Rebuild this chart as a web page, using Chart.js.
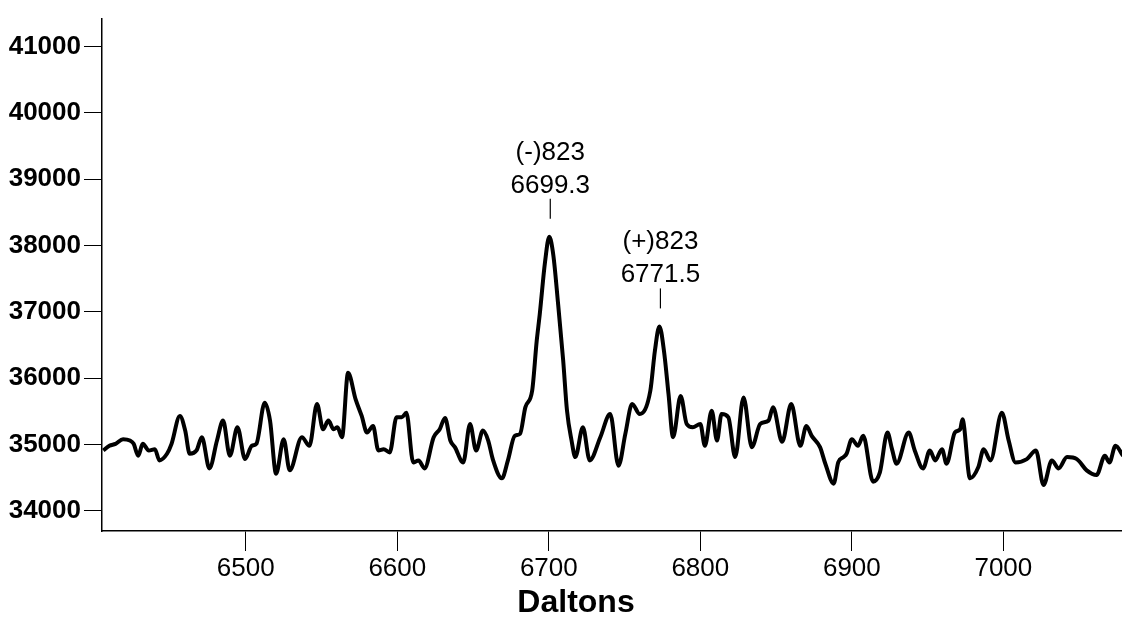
<!DOCTYPE html>
<html>
<head>
<meta charset="utf-8">
<script src="https://cdn.jsdelivr.net/npm/chart.js@4/dist/chart.umd.min.js"></script>
<style>
html,body{margin:0;padding:0;background:#fff;}
#wrap{width:1122px;height:620px;position:relative;}
</style>
</head>
<body>
<div id="wrap"><canvas id="c" width="1122" height="620"></canvas></div>
<script>
// ---- data ----
const daltons = [6406,6410,6414,6419,6423.5,6426,6429,6432,6436,6440,6443,6448,6451,6456.5,6460,6463,6467.5,6471,6476,6481,6485,6489.5,6494.5,6499.5,6504,6507,6512.5,6516,6520,6525,6529,6537,6542,6547,6551,6554.5,6558,6560.5,6563.5,6567.5,6572.5,6576.5,6580,6584,6587.5,6591,6595,6599.5,6603,6606,6610.5,6614,6618,6624,6628,6631.5,6635,6638,6643.5,6648,6652,6656.5,6660,6663,6669,6673,6677.5,6681,6684.5,6689,6692,6694,6697.5,6700.3,6703,6706,6709.5,6712,6715,6717.5,6722.5,6727,6734,6740.5,6746,6750.5,6755,6760,6767,6770,6773,6776,6779,6782,6787,6791,6795,6800,6803,6807.5,6811,6814,6818.5,6823,6828.5,6834,6839.5,6845,6848,6854,6860,6866,6870,6873.5,6879,6882.5,6888,6891,6894.5,6896.5,6900,6904,6907.5,6914,6918.5,6923.5,6926.5,6929.5,6937.5,6941.5,6947,6951.5,6955,6959.5,6962.5,6968,6971.5,6973,6978,6983.5,6987,6991.5,6999,7003.5,7008,7015.5,7021.5,7026.5,7032,7036.5,7042,7048.5,7055,7061.5,7067,7070,7074,7079];
const intensity = [34910,34980,35010,35080,35060,35010,34830,35010,34910,34930,34760,34860,35010,35430,35210,34860,34910,35110,34640,35060,35360,34830,35260,34780,34980,35010,35630,35360,34560,35080,34610,35110,34980,35610,35230,35360,35230,35260,35110,36080,35680,35430,35180,35280,34910,34930,34880,35410,35410,35480,34730,34760,34640,35110,35230,35400,35060,34960,34730,35310,34910,35210,35060,34780,34490,34760,35130,35160,35560,35810,36560,36960,37750,38130,37850,37150,36260,35510,35060,34810,35260,34760,35110,35460,34680,35160,35610,35460,35810,36410,36780,36410,35760,35110,35730,35310,35260,35310,34980,35510,35060,35460,35410,34810,35710,34960,35310,35360,35560,35040,35610,34980,35280,35130,34960,34710,34410,34730,34810,34860,35080,34980,35130,34440,34580,35180,34930,34710,35180,34910,34640,34910,34760,34930,34710,35180,35230,35380,34490,34660,34930,34760,35480,35060,34730,34780,34910,34390,34760,34640,34810,34780,34610,34540,34830,34730,34980,34830];
const xTickValues = [6500,6600,6700,6800,6900,7000];
const yTickValues = [34000,35000,36000,37000,38000,39000,40000,41000];
const xTitle = 'Daltons';
const peakLabelTop = ['(-)823','(+)823'];
const peakLabelBottom = ['6699.3','6771.5'];
const peakAnchorX = [6700.3,6773];
const peakAnchorY = [38130,36780];

const points = daltons.map((d,i)=>({x:d,y:intensity[i]}));
const FONT = '"Liberation Sans", Arial, sans-serif';

const annotPlugin = {
  id:'annot',
  afterDraw(chart){
    const ctx = chart.ctx, xs = chart.scales.x, ys = chart.scales.y;
    ctx.save();
    ctx.fillStyle = '#000';
    ctx.strokeStyle = '#000';
    ctx.lineWidth = 1.2;
    ctx.textAlign = 'center';
    ctx.textBaseline = 'alphabetic';
    ctx.font = '26px ' + FONT;
    for(let i=0;i<peakAnchorX.length;i++){
      const px = xs.getPixelForValue(peakAnchorX[i]);
      const py = ys.getPixelForValue(peakAnchorY[i]);
      ctx.beginPath();
      ctx.moveTo(px+1, py-38);
      ctx.lineTo(px+1, py-18);
      ctx.stroke();
      ctx.fillText(peakLabelBottom[i], px+1, py-44);
      ctx.fillText(peakLabelTop[i], px+1, py-77);
    }
    ctx.font = 'bold 32px ' + FONT;
    ctx.fillText(xTitle, 576, 612);
    ctx.restore();
  }
};

new Chart(document.getElementById('c'), {
  type:'line',
  data:{datasets:[{
    data:points,
    borderColor:'#000',
    borderWidth:4,
    pointRadius:0,
    fill:false,
    cubicInterpolationMode:'monotone'
  }]},
  options:{
    responsive:false,
    animation:false,
    events:[],
    layout:{padding:{top:13,right:0,left:0,bottom:0}},
    plugins:{legend:{display:false},tooltip:{enabled:false}},
    scales:{
      x:{
        type:'linear',
        min:6405.1,
        max:7078.3,
        afterBuildTicks(s){ s.ticks = xTickValues.map(v=>({value:v})); },
        afterFit(s){ s.height = 89; },
        border:{display:true,color:'#000',width:1.5},
        grid:{drawOnChartArea:false,drawTicks:true,tickLength:20,tickColor:'#000',tickWidth:1},
        ticks:{color:'#000',padding:2,maxRotation:0,autoSkip:false,
          callback:(v)=>String(v),
          font:{family:FONT,size:26}}
      },
      y:{
        type:'linear',
        min:33696,
        max:41420,
        afterBuildTicks(s){ s.ticks = yTickValues.map(v=>({value:v})); },
        afterFit(s){ s.width = 102; },
        border:{display:true,color:'#000',width:1.5},
        grid:{drawOnChartArea:false,drawTicks:true,tickLength:18,tickColor:'#000',tickWidth:1},
        ticks:{color:'#000',padding:3,autoSkip:false,
          callback:(v)=>String(v),
          font:{family:FONT,size:26,weight:'bold'}}
      }
    }
  },
  plugins:[annotPlugin]
});
</script>
</body>
</html>
